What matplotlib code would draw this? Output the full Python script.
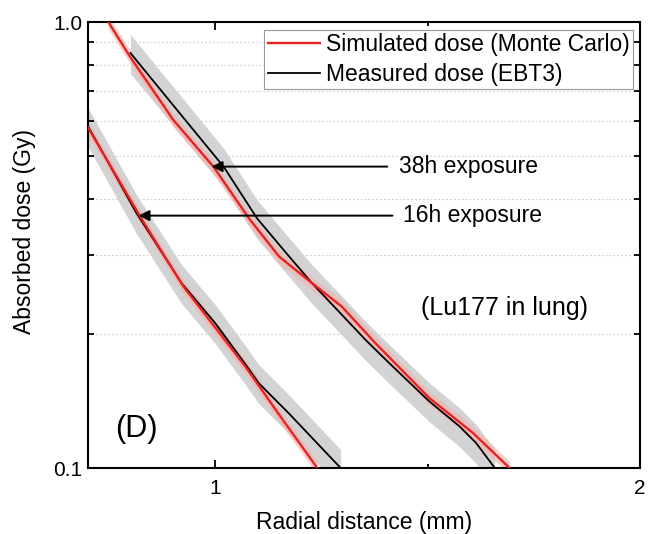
import numpy as np
import matplotlib.pyplot as plt
from matplotlib.ticker import FixedLocator, NullFormatter, FixedFormatter

plt.rcParams.update({
    "font.family": ["Liberation Sans", "DejaVu Sans"],
    "font.size": 16.5,
})

# --- datos ---
# 38 h
x_sim_38 = [0.748, 0.799, 0.901, 0.996, 1.079, 1.150, 1.227, 1.298, 1.378, 1.504, 1.606, 1.693]
y_sim_38 = [1.00, 0.836, 0.603, 0.473, 0.363, 0.298, 0.260, 0.230, 0.190, 0.1435, 0.120, 0.100]
x_mea_38 = [0.800, 0.929, 1.020, 1.098, 1.161, 1.227, 1.354, 1.409, 1.504, 1.575, 1.614, 1.658]
y_mea_38 = [0.852, 0.603, 0.473, 0.363, 0.308, 0.260, 0.1936, 0.172, 0.141, 0.124, 0.1138, 0.100]
# 16 h
x_sim_16 = [0.700, 0.823, 0.925, 0.992, 1.071, 1.148, 1.240]
y_sim_16 = [0.580, 0.366, 0.255, 0.211, 0.1687, 0.1326, 0.100]
x_mea_16 = [0.700, 0.814, 0.920, 1.000, 1.075, 1.102, 1.173, 1.295]
y_mea_16 = [0.584, 0.373, 0.260, 0.211, 0.1687, 0.155, 0.1326, 0.100]

ERR_MEA = 0.10   # banda gris relativa
ERR_SIM = 0.035  # banda roja relativa

RED = "#e8231f"

fig = plt.figure(figsize=(6.6, 5.34), dpi=100)
ax = fig.add_axes([88/660, 1-468/534, 552/660, 446/534])

for xm, ym in [(x_mea_38, y_mea_38), (x_mea_16, y_mea_16)]:
    xm = np.array(xm); ym = np.array(ym)
    ax.fill_between(xm, ym*(1-ERR_MEA), ym*(1+ERR_MEA), color="#d3d3d3", lw=0, zorder=1)
for xs, ys in [(x_sim_38, y_sim_38), (x_sim_16, y_sim_16)]:
    xs = np.array(xs); ys = np.array(ys)
    ax.fill_between(xs, ys*(1-ERR_SIM), ys*(1+ERR_SIM), color="#f4b0b0", alpha=0.6, lw=0, zorder=2)

ax.plot(x_mea_38, y_mea_38, color="black", lw=1.3, zorder=3, label="Measured dose (EBT3)")
ax.plot(x_sim_38, y_sim_38, color=RED, lw=1.7, zorder=4, label="Simulated dose (Monte Carlo)")
ax.plot(x_mea_16, y_mea_16, color="black", lw=1.3, zorder=3)
ax.plot(x_sim_16, y_sim_16, color=RED, lw=1.7, zorder=4)

ax.set_yscale("log")
ax.set_xlim(0.7, 2.0)
ax.set_ylim(0.1, 1.0)

ax.xaxis.set_major_locator(FixedLocator([1, 2]))
ax.xaxis.set_major_formatter(FixedFormatter(["1", "2"]))
ax.xaxis.set_minor_locator(FixedLocator([1.5]))
ax.yaxis.set_major_locator(FixedLocator([0.1, 1.0]))
ax.yaxis.set_major_formatter(FixedFormatter(["0.1", "1.0"]))
minor_y = [0.2, 0.3, 0.4, 0.5, 0.6, 0.7, 0.8, 0.9]
ax.yaxis.set_minor_locator(FixedLocator(minor_y))
ax.yaxis.set_minor_formatter(NullFormatter())
for yv in minor_y:
    ax.axhline(yv, color="#cfcfcf", lw=0.8, ls=(0, (1.5, 2)), zorder=0)

ax.tick_params(which="both", direction="in", top=True, right=True, width=1.3, labelsize=15)
ax.tick_params(axis="x", which="major", length=6, pad=8)
ax.tick_params(axis="x", which="minor", length=3)
ax.tick_params(axis="y", which="minor", length=4.5)
ax.tick_params(axis="y", which="major", length=6, pad=4)
for s in ax.spines.values():
    s.set_linewidth(1.5)

ax.set_xlabel("Radial distance (mm)", labelpad=9)
ax.set_ylabel("Absorbed dose (Gy)")
ax.yaxis.set_label_coords(-0.094, 0.53)

h, l = ax.get_legend_handles_labels()
leg = ax.legend(h[::-1], l[::-1], loc="upper right", bbox_to_anchor=(0.988, 0.983),
                fancybox=False, edgecolor="#999999", framealpha=1, borderpad=0.15,
                handlelength=2.3, handletextpad=0.25, labelspacing=0.3, borderaxespad=0)
leg.get_frame().set_linewidth(0.8)

arrow = dict(arrowstyle="-|>", color="black", lw=1.4, mutation_scale=16, shrinkA=0, shrinkB=0)
ax.annotate("", xy=(0.991, 0.474), xytext=(1.405, 0.474), arrowprops=arrow, zorder=5)
ax.text(1.432, 0.474, "38h exposure", va="center", ha="left")
ax.annotate("", xy=(0.819, 0.368), xytext=(1.417, 0.368), arrowprops=arrow, zorder=5)
ax.text(1.442, 0.368, "16h exposure", va="center", ha="left")

ax.text(1.681, 0.2285, "(Lu177 in lung)", ha="center", va="center", fontsize=18)
ax.text(0.814, 0.122, "(D)", ha="center", va="center", fontsize=22)

fig.savefig("out.png", dpi=100)
